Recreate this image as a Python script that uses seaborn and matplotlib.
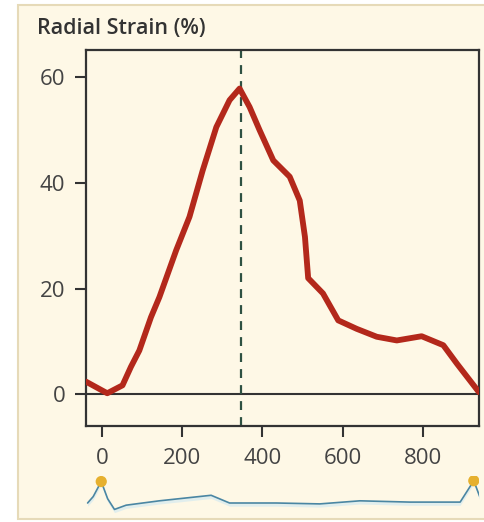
import numpy as np
import pandas as pd
import matplotlib
matplotlib.use("Agg")
import matplotlib.pyplot as plt
from matplotlib.patches import Rectangle
import seaborn as sns

# Radial strain curve over one cardiac cycle (ms, %)
time_ms = [-40, 13, 51, 72, 93, 122, 143, 185, 218, 251, 285, 318, 343,
           368, 393, 427, 468, 493, 506, 514, 551, 589, 635, 685, 735,
           797, 851, 885, 940]
strain_pct = [2.4, 0.2, 1.7, 5.2, 8.3, 14.6, 18.4, 27.3, 33.6, 42.4, 50.6,
              55.7, 57.9, 54.4, 50.0, 44.3, 41.2, 36.7, 29.8, 22.0, 19.1,
              14.0, 12.4, 10.9, 10.2, 11.0, 9.3, 5.8, 0.4]

# Time of peak strain
peak_time = 347

# ECG reference trace (ms, arbitrary amplitude)
ecg_time = [-36, -22, -2, 14, 31, 60, 143, 272, 318, 435, 543, 643, 768,
            893, 927, 947]
ecg_amp = [5, 10, 21.7, 8.3, 0, 3.3, 6.7, 11, 5, 5, 4.3, 6.7, 5.7, 5.7,
           22.3, 5.7]
r_wave_time = [-2, 927]

x_ticks = [0, 200, 400, 600, 800]
y_ticks = [0, 20, 40, 60]

sns.set_theme(style="white")
plt.rcParams["font.family"] = ["Open Sans", "DejaVu Sans"]

W, H = 485, 522
fig = plt.figure(figsize=(W / 100, H / 100), dpi=100)
fig.patch.set_facecolor("white")

# Cream panel behind the chart
panel = Rectangle((18 / W, 1 - 519 / H), 1.2, (519 - 5) / H,
                  transform=fig.transFigure, facecolor="#FEF8E6",
                  edgecolor="#E6DAB8", linewidth=1.5, zorder=-10)
fig.patches.append(panel)

ax = fig.add_axes([86 / W, 1 - 426 / H, (479 - 86) / W, (426 - 50) / H])
ax.set_facecolor("#FEF8E6")

df = pd.DataFrame({"time": time_ms, "strain": strain_pct})
ax.axhline(0, color="#333333", lw=1.5, zorder=1)
ax.axvline(peak_time, color="#2E5142", lw=1.6, ls=(0, (4, 3.2)), zorder=2)
sns.lineplot(data=df, x="time", y="strain", ax=ax, color="#B3281B",
             lw=4.2, solid_joinstyle="round", solid_capstyle="round",
             zorder=3)

ax.set_xlim(-40, 940)
ax.set_ylim(-6, 65.2)
ax.set_xticks(x_ticks)
ax.set_yticks(y_ticks)
ax.set_xlabel("")
ax.set_ylabel("")
for s in ax.spines.values():
    s.set_color("#333333")
    s.set_linewidth(1.6)
ax.tick_params(axis="both", direction="out", length=8, width=1.5,
               color="#333333", labelsize=16, labelcolor="#444444")
ax.tick_params(axis="x", pad=8, bottom=True)
ax.tick_params(axis="y", pad=7, left=True)

ax.text(-0.125, 1.058, "Radial Strain (%)", transform=ax.transAxes,
        fontsize=15.5, fontweight="semibold", color="#333333",
        ha="left", va="center")

# ECG strip under the time axis
ax_ecg = fig.add_axes([86 / W, 1 - 512 / H, (479 - 86) / W, (512 - 476) / H])
ax_ecg.set_xlim(ax.get_xlim())
ax_ecg.set_ylim(-2, 26)
ecg = pd.DataFrame({"time": ecg_time, "amp": ecg_amp})
ax_ecg.fill_between(ecg_time, [a - 2.5 for a in ecg_amp], ecg_amp,
                    color="#CFE8F2", alpha=0.6, lw=0)
sns.lineplot(data=ecg, x="time", y="amp", ax=ax_ecg, color="#4A86A3",
             lw=1.2)
peaks = pd.DataFrame({"time": r_wave_time,
                      "amp": [ecg_amp[2], ecg_amp[14]]})
sns.scatterplot(data=peaks, x="time", y="amp", ax=ax_ecg, color="#E6B02E",
                s=65, edgecolor="none", zorder=4)
ax_ecg.axis("off")
ax_ecg.patch.set_alpha(0)

fig.savefig("out.png", dpi=100, facecolor=fig.get_facecolor())
